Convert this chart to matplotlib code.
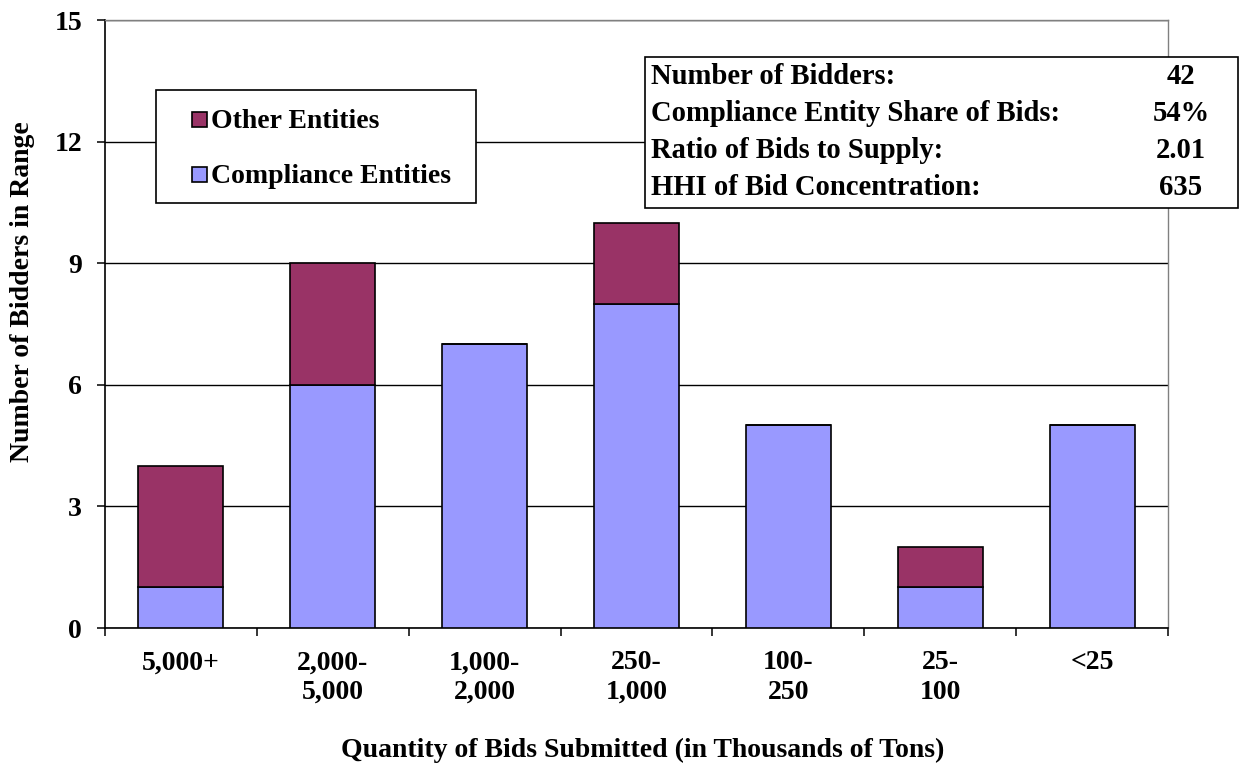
import matplotlib
matplotlib.use("Agg")
import matplotlib.pyplot as plt
from matplotlib.patches import Rectangle
import numpy as np

categories = ["5,000+", "2,000-\n5,000", "1,000-\n2,000", "250-\n1,000", "100-\n250", "25-\n100", "<25"]
compliance = [1, 6, 7, 8, 5, 1, 5]
other = [3, 3, 0, 2, 0, 1, 0]
series_names = ["Other Entities", "Compliance Entities"]
stat_labels = ["Number of Bidders:", "Compliance Entity Share of Bids:",
               "Ratio of Bids to Supply:", "HHI of Bid Concentration:"]
stat_values = ["42", "54%", "2.01", "635"]

plt.rcParams['font.family'] = ['Liberation Serif', 'DejaVu Serif']
plt.rcParams['font.weight'] = 'bold'
FS = 20

W, H = 1239, 765
fig = plt.figure(figsize=(W/100, H/100), dpi=100)
ax = fig.add_axes([105/W, 137/H, (1168-105)/W, (628-20)/H])

def fx(px):
    return px / W
def fy(py):
    return 1 - py / H

x = np.arange(len(categories))
w = 0.56
c_blue = "#9999FF"
c_purple = "#993366"
ax.bar(x, compliance, w, color=c_blue, edgecolor="black", linewidth=1.2, zorder=3,
       label=series_names[1])
ax.bar(x, other, w, bottom=compliance, color=c_purple, edgecolor="black", linewidth=1.2, zorder=3,
       label=series_names[0])

ax.set_xlim(-0.5, len(categories) - 0.5)
ax.set_ylim(0, 15)
ax.set_yticks([0, 3, 6, 9, 12, 15])
ax.yaxis.grid(True, color="black", linewidth=1.0, zorder=0)
ax.set_axisbelow(True)

ax.set_xticks(np.arange(len(categories) + 1) - 0.5)
ax.set_xticklabels([])
ax.set_xticks(x, minor=True)
ax.set_xticklabels(categories, minor=True, fontsize=FS, fontweight="bold", linespacing=1.25)
ax.tick_params(axis="x", which="minor", length=0, pad=16)
ax.tick_params(axis="x", which="major", direction="out", length=5.5, width=1.1)
ax.tick_params(axis="y", direction="out", length=5.5, width=1.1, labelsize=FS, pad=11)
for lab in ax.get_yticklabels():
    lab.set_fontweight("bold")

for s in ["left", "bottom"]:
    ax.spines[s].set_linewidth(1.2)
    ax.spines[s].set_color("black")
for s in ["top", "right"]:
    ax.spines[s].set_color("#808080")
    ax.spines[s].set_linewidth(1.0)

ax.set_ylabel("Number of Bidders in Range", fontsize=FS, fontweight="bold", va="center")
ax.yaxis.set_label_coords(fx(23), fy(292), transform=fig.transFigure)
ax.set_xlabel("Quantity of Bids Submitted (in Thousands of Tons)", fontsize=FS,
              fontweight="bold", va="center")
ax.xaxis.set_label_coords(fx(643), fy(750), transform=fig.transFigure)

# legend box drawn by hand to match the reference layout
fig.patches.append(Rectangle((fx(156), fy(203)), fx(476) - fx(156), fy(90) - fy(203),
                             transform=fig.transFigure, facecolor="white", edgecolor="black",
                             linewidth=1.2, zorder=10))
leg_items = [(series_names[0], c_purple, 120), (series_names[1], c_blue, 175)]
for name, col, yc in leg_items:
    fig.patches.append(Rectangle((fx(192), fy(yc + 7)), fx(207) - fx(192), fy(yc - 8) - fy(yc + 7),
                                 transform=fig.transFigure, facecolor=col, edgecolor="black",
                                 linewidth=1.2, zorder=11))
    fig.text(fx(211), fy(yc + 8), name, ha="left", va="baseline", fontsize=FS,
             fontweight="bold", zorder=12)

# stats box
fig.patches.append(Rectangle((fx(645), fy(208)), fx(1238) - fx(645), fy(57) - fy(208),
                             transform=fig.transFigure, facecolor="white", edgecolor="black",
                             linewidth=1.2, zorder=10))
baselines = [84, 121, 158, 195]
for lbl, val, yb in zip(stat_labels, stat_values, baselines):
    fig.text(fx(651), fy(yb), lbl, ha="left", va="baseline", fontsize=20.6, fontweight="bold", zorder=11)
    fig.text(fx(1181), fy(yb), val, ha="center", va="baseline", fontsize=20.6, fontweight="bold", zorder=11)

fig.savefig("out.png", dpi=100)
